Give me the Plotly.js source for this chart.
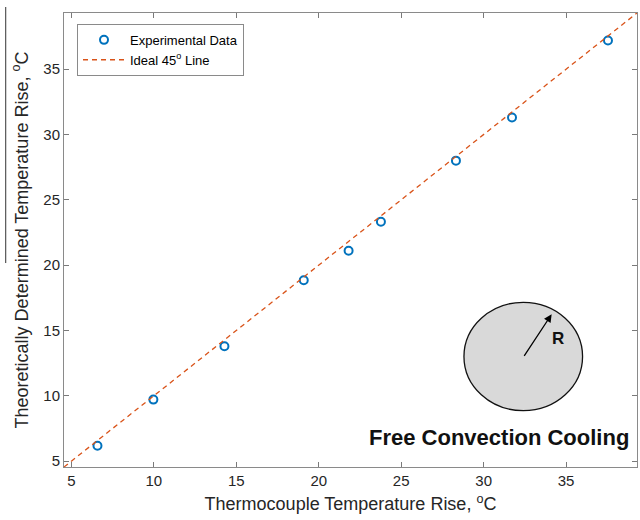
<!DOCTYPE html>
<html>
<head>
<meta charset="utf-8">
<script src="https://cdn.plot.ly/plotly-3.0.1.min.js"></script>
<style>html,body{margin:0;padding:0;background:#fff;}#chart{width:640px;height:520px;}</style>
</head>
<body>
<div id="chart"></div>
<script>
// Data
const thermocoupleRise = [6.58, 9.97, 14.28, 19.09, 21.81, 23.77, 28.32, 31.72, 37.54];
const theoreticalRise  = [6.18, 9.71, 13.79, 18.85, 21.10, 23.32, 28.00, 31.30, 37.20];
const idealLine = [4.55, 39.3];
const tickVals = [5, 10, 15, 20, 25, 30, 35];
const axisRange = [4.55, 39.3];

const traces = [
  {
    x: thermocoupleRise, y: theoreticalRise,
    type: 'scatter', mode: 'markers', name: 'Experimental Data',
    marker: {symbol: 'circle-open', size: 8, color: '#0072BD', line: {width: 2, color: '#0072BD'}}
  },
  {
    x: idealLine, y: idealLine,
    type: 'scatter', mode: 'lines', name: 'Ideal 45<sup>o</sup> Line',
    line: {color: '#D95319', width: 1.3, dash: '5px,4px'}
  }
];

const axisCommon = {
  range: axisRange, tickvals: tickVals, ticks: 'inside', ticklen: 5, tickwidth: 1,
  tickcolor: '#7a7a7a', showline: true, linecolor: '#8a8a8a', linewidth: 1, mirror: 'ticks',
  showgrid: false, zeroline: false,
  tickfont: {family: 'Liberation Sans, Arial, sans-serif', size: 15, color: '#262626'}
};

const layout = {
  width: 640, height: 520,
  margin: {l: 64, r: 3, t: 13, b: 53},
  paper_bgcolor: '#fff', plot_bgcolor: '#fff',
  showlegend: true,
  legend: {
    x: 0.0227, y: 0.976, xanchor: 'left', yanchor: 'top',
    bordercolor: '#8a8a8a', borderwidth: 1, bgcolor: '#fff',
    font: {family: 'Liberation Sans, Arial, sans-serif', size: 13, color: '#000'},
    tracegroupgap: 0, itemwidth: 42
  },
  xaxis: Object.assign({}, axisCommon, {
    title: {text: 'Thermocouple Temperature Rise, <sup>o</sup>C', standoff: 9,
      font: {family: 'Liberation Sans, Arial, sans-serif', size: 18, color: '#262626'}}
  }),
  yaxis: Object.assign({}, axisCommon, {
    title: {text: 'Theoretically Determined Temperature Rise, <sup>o</sup>C', standoff: 10,
      font: {family: 'Liberation Sans, Arial, sans-serif', size: 18, color: '#262626'}}
  }),
  shapes: [
    {type: 'circle', xref: 'paper', yref: 'paper', x0: 0.698, x1: 0.905, y0: 0.124, y1: 0.3628,
     fillcolor: '#d9d9d9', line: {color: '#111', width: 1.3}, layer: 'above'},
    {type: 'line', xref: 'paper', yref: 'paper', x0: -0.1017, x1: -0.1017, y0: 1.0132, y1: 0.4493,
     line: {color: '#333', width: 1}}
  ],
  annotations: [
    {xref: 'paper', yref: 'paper', x: 0.851, y: 0.3363, ax: -28.4, ay: 43, axref: 'pixel', ayref: 'pixel',
     showarrow: true, arrowhead: 2, arrowsize: 1.2, arrowwidth: 1.3, arrowcolor: '#000', text: ''},
    {xref: 'paper', yref: 'paper', x: 0.862, y: 0.282, xanchor: 'center', yanchor: 'middle',
     showarrow: false, text: '<b>R</b>',
     font: {family: 'Liberation Sans, Arial, sans-serif', size: 17, color: '#111'}},
    {xref: 'paper', yref: 'paper', x: 0.76, y: 0.0639, xanchor: 'center', yanchor: 'middle',
     showarrow: false, text: '<b>Free Convection Cooling</b>',
     font: {family: 'Liberation Sans, Arial, sans-serif', size: 22, color: '#111'}}
  ]
};

Plotly.newPlot('chart', traces, layout, {displayModeBar: false, staticPlot: true});
</script>
</body>
</html>
